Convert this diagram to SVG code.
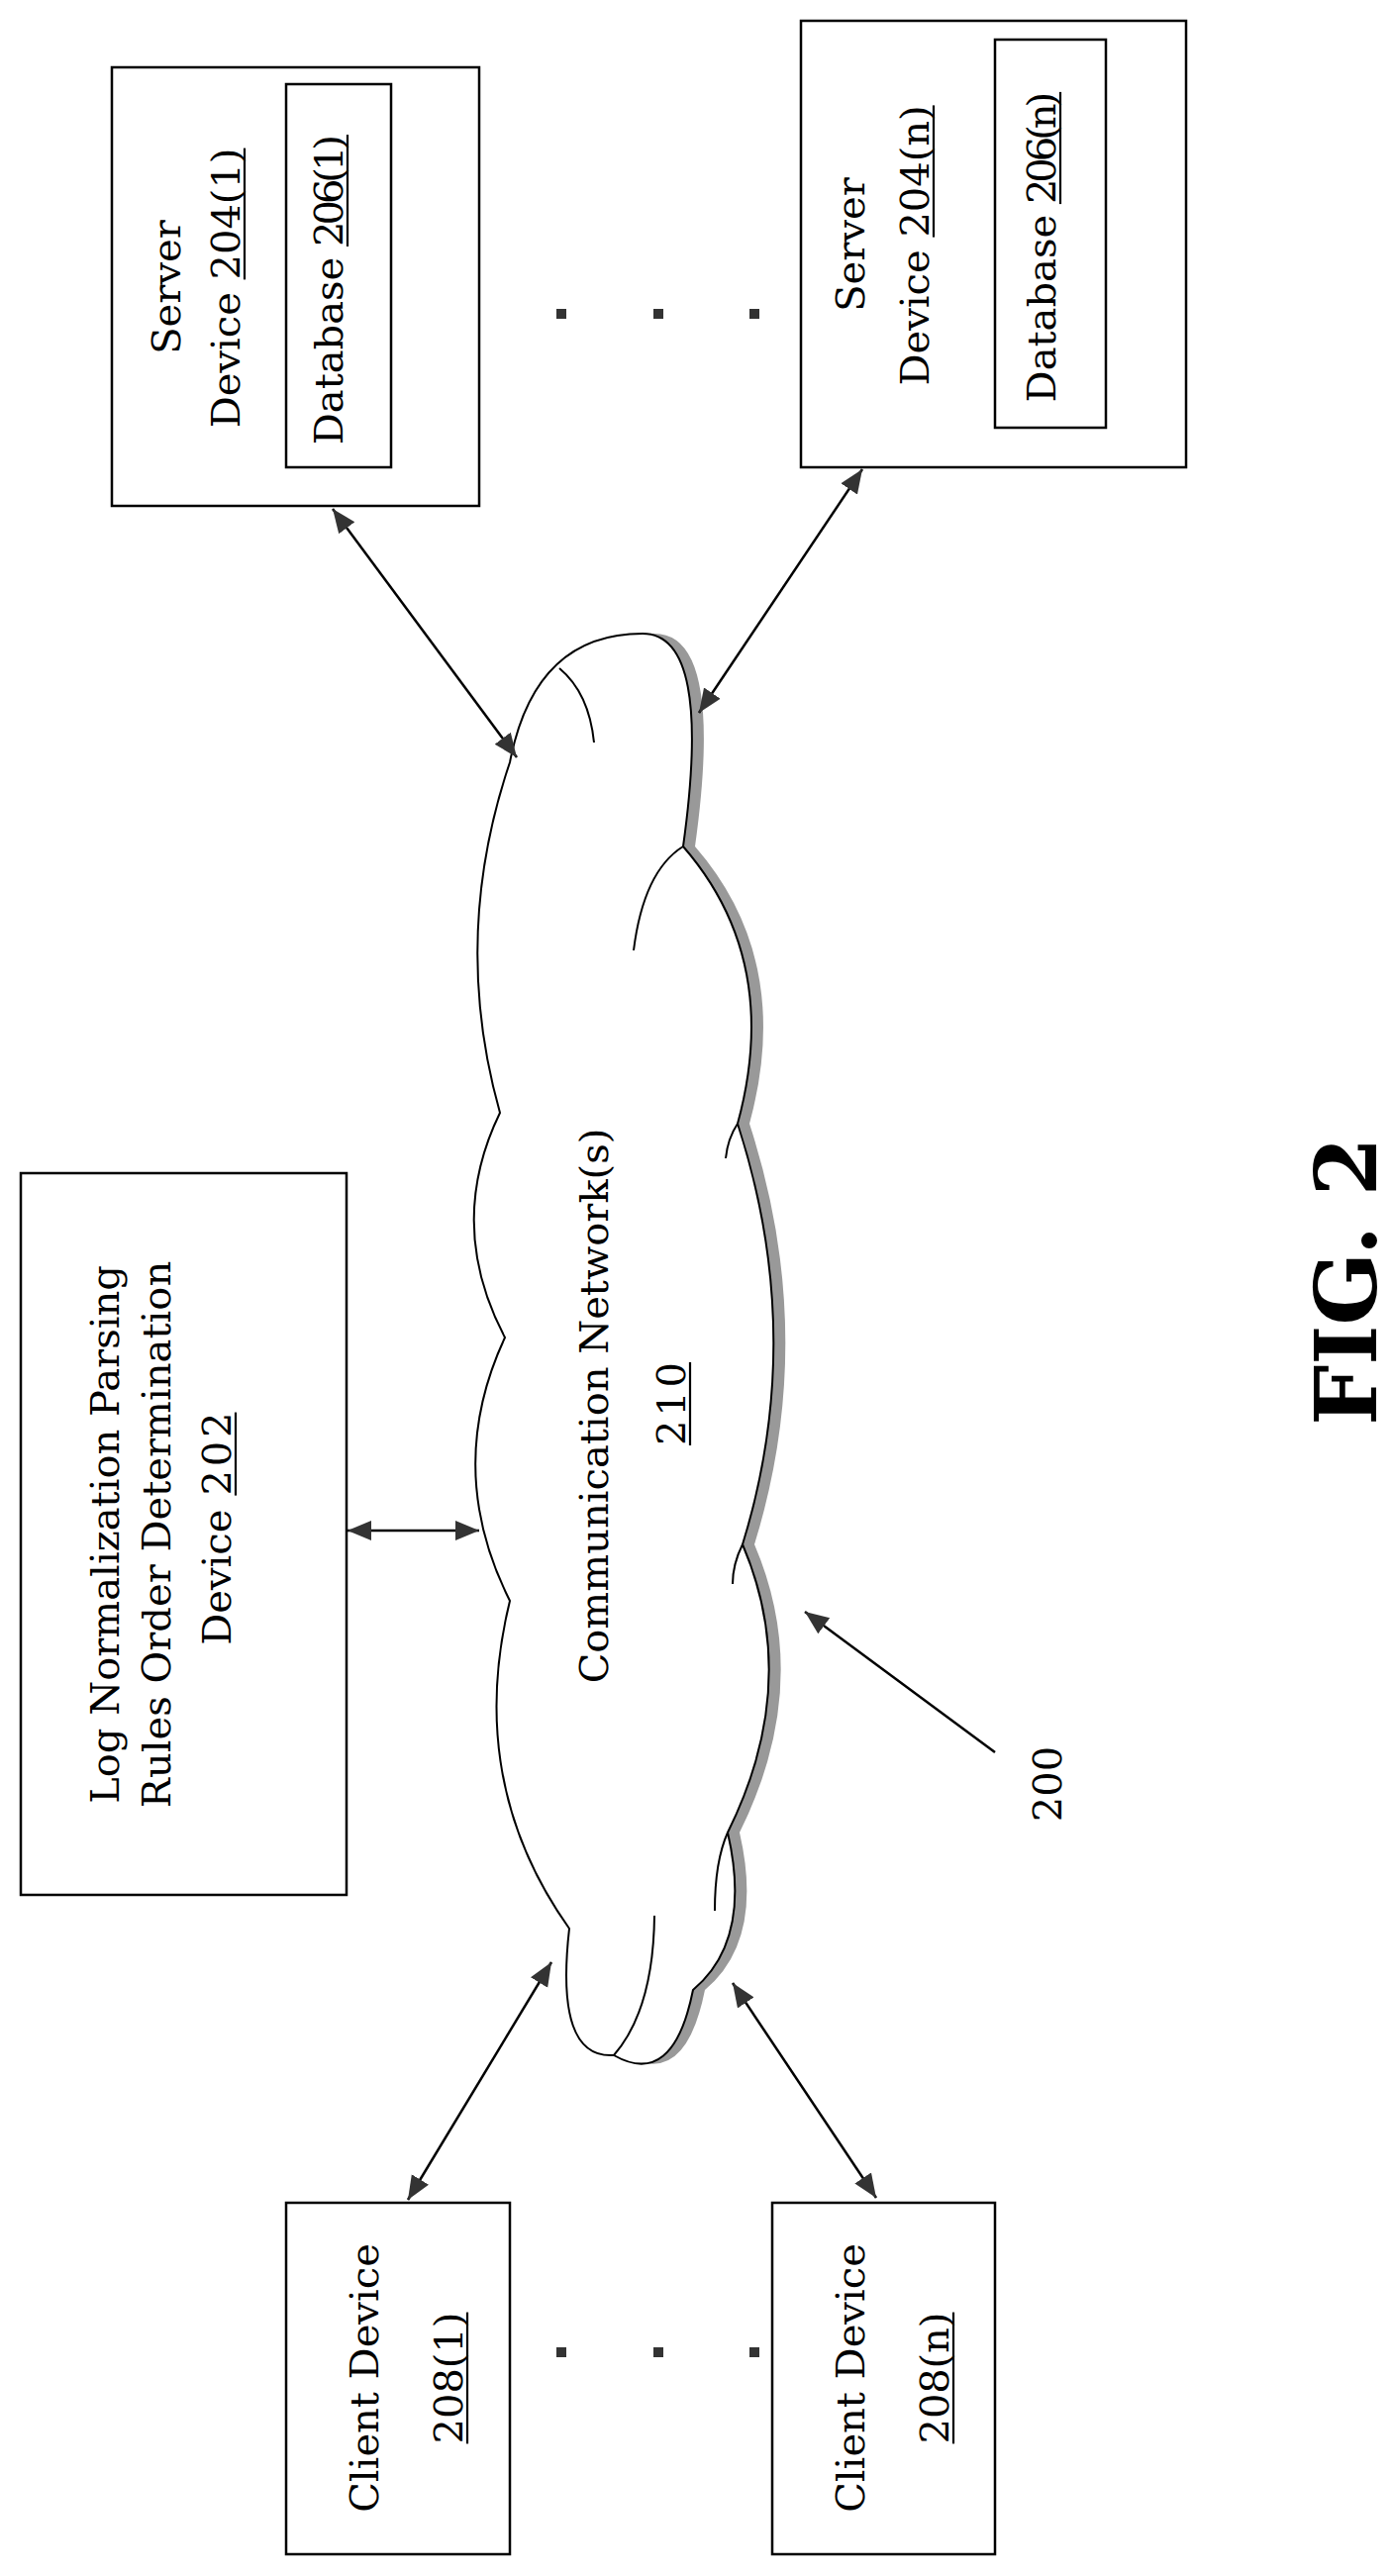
<svg xmlns="http://www.w3.org/2000/svg" width="1406" height="2602" viewBox="0 0 1406 2602">
<style>
.box{fill:#fff;stroke:#000;stroke-width:2.5}
.t{font-family:"DejaVu Serif","Liberation Serif",serif;font-size:40px;fill:#000;text-anchor:middle}
.e{text-anchor:end}
.s{text-anchor:start}
.c{stroke:#000;stroke-width:2;fill:none}
.ul{stroke:#000;stroke-width:2.2}
</style>
<defs>
<marker id="a2" viewBox="0 0 24 24" refX="24" refY="12" markerWidth="24" markerHeight="24" orient="auto-start-reverse" markerUnits="userSpaceOnUse">
<path d="M0,2 L24,12 L0,22 z" fill="#333"/>
</marker>
</defs>
<rect width="1406" height="2602" fill="#fff"/>
<g id="cloud">
<path transform="translate(12,0)" fill="#999" d="M649,640 Q540,640 515,770 Q455,947 505,1124 Q450,1237 510,1351 Q448,1484 515,1617 Q470,1800 575,1948 Q560,2080 620,2076 Q680,2110 700,2010 Q760,1960 735,1851 Q810,1700 750,1560 Q815,1350 745,1135 Q790,970 690,855 Q720,640 649,640 Z"/>
<path fill="#fff" stroke="#000" stroke-width="2" d="M649,640 Q540,640 515,770 Q455,947 505,1124 Q450,1237 510,1351 Q448,1484 515,1617 Q470,1800 575,1948 Q560,2080 620,2076 Q680,2110 700,2010 Q760,1960 735,1851 Q810,1700 750,1560 Q815,1350 745,1135 Q790,970 690,855 Q720,640 649,640 Z"/>
<path class="c" d="M565,675 Q595,700 600,750"/>
<path class="c" d="M690,855 Q650,880 640,960"/>
<path class="c" d="M745,1135 Q735,1150 733,1170"/>
<path class="c" d="M750,1560 Q740,1580 740,1600"/>
<path class="c" d="M735,1851 Q722,1880 722,1930"/>
<path class="c" d="M620,2076 Q660,2030 661,1935"/>
<text class="t" font-size="44" transform="translate(614,1420) rotate(-90)">Communication Network(s)</text>
<text class="t" font-size="44" textLength="84" transform="translate(692,1418) rotate(-90)">210</text>
<line class="ul" x1="697" y1="1460" x2="697" y2="1376"/>
</g>
<g id="server1">
<rect class="box" x="113" y="68" width="371" height="443"/>
<text class="t" transform="translate(182,290) rotate(-90)">Server</text>
<text class="t e" transform="translate(242,295.1) rotate(-90)">Device</text>
<text class="t s" textLength="132.8" transform="translate(242,282.4) rotate(-90)">204(1)</text>
<line class="ul" x1="247" y1="282.4" x2="247" y2="149.6"/>
<rect class="box" x="289" y="85" width="106" height="387"/>
<text class="t e" font-size="34" transform="translate(346,259.75) rotate(-90)">Database</text>
<text class="t s" font-size="34" textLength="112.9" transform="translate(346,248.95) rotate(-90)">206(1)</text>
<line class="ul" x1="351" y1="248.95" x2="351" y2="136.05"/>
</g>
<g id="servern">
<rect class="box" x="809" y="21" width="389" height="451"/>
<text class="t" transform="translate(873,247) rotate(-90)">Server</text>
<text class="t e" transform="translate(938,252.3) rotate(-90)">Device</text>
<text class="t s" textLength="133.2" transform="translate(938,239.6) rotate(-90)">204(n)</text>
<line class="ul" x1="943" y1="239.6" x2="943" y2="106.4"/>
<rect class="box" x="1005" y="40" width="112" height="392"/>
<text class="t e" font-size="34" transform="translate(1066,216.9) rotate(-90)">Database</text>
<text class="t s" font-size="34" textLength="113.2" transform="translate(1066,206.1) rotate(-90)">206(n)</text>
<line class="ul" x1="1071" y1="206.1" x2="1071" y2="92.9"/>
</g>
<g id="lnp">
<rect class="box" x="21" y="1185" width="329" height="729"/>
<text class="t" font-size="44" transform="translate(120,1550) rotate(-90)">Log Normalization Parsing</text>
<text class="t" font-size="44" transform="translate(172,1550) rotate(-90)">Rules Order Determination</text>
<text class="t e" font-size="44" transform="translate(233,1524.6) rotate(-90)">Device</text>
<text class="t s" font-size="44" textLength="84" transform="translate(233,1510.6) rotate(-90)">202</text>
<line class="ul" x1="238" y1="1510.6" x2="238" y2="1426.6"/>
</g>
<g id="client1">
<rect class="box" x="289" y="2225" width="226" height="355"/>
<text class="t" transform="translate(382,2402) rotate(-90)">Client Device</text>
<text class="t" textLength="132.8" transform="translate(467,2402) rotate(-90)">208(1)</text>
<line class="ul" x1="472" y1="2468.4" x2="472" y2="2335.6"/>
</g>
<g id="clientn">
<rect class="box" x="780" y="2225" width="225" height="355"/>
<text class="t" transform="translate(873,2402) rotate(-90)">Client Device</text>
<text class="t" textLength="132.8" transform="translate(958,2402) rotate(-90)">208(n)</text>
<line class="ul" x1="963" y1="2468.4" x2="963" y2="2335.6"/>
</g>
<g id="dots" fill="#333">
<rect x="562" y="312" width="10" height="10"/><rect x="660" y="312" width="10" height="10"/><rect x="757" y="312" width="10" height="10"/>
<rect x="562" y="2371" width="10" height="10"/><rect x="660" y="2371" width="10" height="10"/><rect x="757" y="2371" width="10" height="10"/>
</g>
<g id="connectors" stroke="#000" stroke-width="2.5" fill="none">
<line x1="336" y1="514" x2="522" y2="765" marker-start="url(#a2)" marker-end="url(#a2)"/>
<line x1="871" y1="474" x2="706" y2="720" marker-start="url(#a2)" marker-end="url(#a2)"/>
<line x1="351" y1="1546" x2="484" y2="1546" marker-start="url(#a2)" marker-end="url(#a2)"/>
<line x1="412" y1="2222" x2="557" y2="1982" marker-start="url(#a2)" marker-end="url(#a2)"/>
<line x1="885" y1="2220" x2="740" y2="2003" marker-start="url(#a2)" marker-end="url(#a2)"/>
<line x1="1005" y1="1770" x2="813" y2="1628" marker-end="url(#a2)"/>
</g>
<text class="t" font-size="40" transform="translate(1072,1802) rotate(-90)">200</text>
<text font-family="DejaVu Serif,serif" font-weight="bold" font-size="86" text-anchor="middle" transform="translate(1390,1294) rotate(-90)">FIG. 2</text>
</svg>
